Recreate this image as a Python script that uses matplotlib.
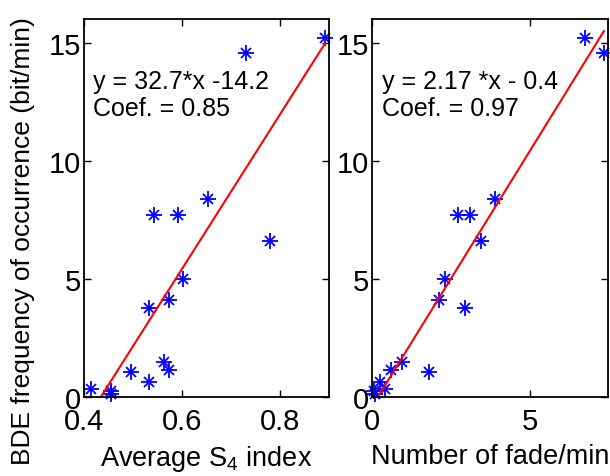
import numpy as np
import matplotlib.pyplot as plt

plt.rcParams['font.family'] = 'Liberation Sans'
plt.rcParams['mathtext.fontset'] = 'custom'
plt.rcParams['mathtext.rm'] = 'Liberation Sans'
plt.rcParams['mathtext.it'] = 'Liberation Sans'

# BDE occurrence (bit/min), shared by both panels
bde = [15.2, 14.55, 8.4, 7.7, 7.7, 6.6, 5.0, 4.1, 3.75, 1.5, 1.15, 1.05, 0.65, 0.35, 0.25, 0.12]
# average S4 index
s4 = [0.892, 0.731, 0.654, 0.543, 0.591, 0.780, 0.603, 0.573, 0.532, 0.564, 0.573, 0.496, 0.533, 0.415, 0.455, 0.455]
# number of fades per minute
fades = [6.72, 7.32, 3.87, 2.72, 3.11, 3.45, 2.29, 2.13, 2.95, 0.95, 0.61, 1.81, 0.26, 0.42, 0.05, 0.10]

fit_s4 = (32.7, -14.2)
fit_fade = (2.17, -0.4)

fig = plt.figure(figsize=(6.1, 4.77), dpi=100)
ax1 = fig.add_axes([0.1377, 0.1656, 0.4016, 0.7925])
ax2 = fig.add_axes([0.6098, 0.1656, 0.3869, 0.7925])


def panel(ax, x, y, fit, xlim, xticks, xlabel, lines, tx):
    x = np.array(x)
    ax.plot(x, y, '+', color='blue', ms=11, mew=1.3, clip_on=False)
    ax.plot(x, y, 'x', color='blue', ms=7, mew=1.3, clip_on=False)
    xs = np.array([x.min(), x.max()])
    ax.plot(xs, fit[0] * xs + fit[1], color='red', lw=1.5)
    ax.set_xlim(xlim)
    ax.set_ylim(0, 16)
    ax.set_xticks(xticks)
    ax.set_yticks([0, 5, 10, 15])
    ax.tick_params(direction='in', top=True, right=True, labelsize=21,
                   length=5, width=1, pad=2)
    ax.tick_params(axis='x', pad=7)
    for s in ax.spines.values():
        s.set_linewidth(1.3)
    ax.set_xlabel(xlabel, fontsize=19.5, labelpad=6)
    ax.text(tx, 13.1, lines[0], fontsize=18)
    ax.text(tx, 11.95, lines[1], fontsize=18)


panel(ax1, s4, bde, fit_s4, (0.405, 0.9), [0.4, 0.6, 0.8], 'Average S$_{4}$ index',
      ['y = 32.7*x -14.2', 'Coef. = 0.85'], 0.418)
panel(ax2, fades, bde, fit_fade, (0, 7.45), [0, 5], 'Number of fade/min',
      ['y = 2.17 *x - 0.4', 'Coef. = 0.97'], 0.32)

fig.text(0.037, 0.495, 'BDE frequency of occurrence (bit/min)', rotation=90,
         fontsize=19, va='center', ha='center')

plt.savefig('out.png')
